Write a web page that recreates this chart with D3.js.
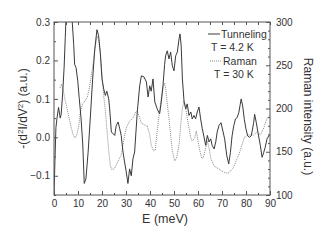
<!DOCTYPE html>
<html>
<head>
<meta charset="utf-8">
<script src="https://d3js.org/d3.v7.min.js"></script>
<style>
  body { margin: 0; background: #fff; }
  svg { display: block; font-family: "Liberation Sans", Arial, sans-serif; }
</style>
</head>
<body>
<svg id="chart" width="327" height="245"></svg>
<script>
// tunneling: -(d2I/dV2), left axis
var tunE = [0, 0.4, 0.8, 1.25, 1.9, 2.6, 3.0, 3.6, 4.2, 4.7, 5.0, 5.5, 6.3, 7.0, 7.5, 8.2, 8.6, 9.2, 9.9, 10.5,
  11.25, 12, 12.6, 13.3, 14.2, 15.1, 16.1, 17, 17.9, 18.6, 19.3, 20, 20.7, 21.4, 22, 22.8, 23.2, 23.9, 25.3, 25.9,
  26.7, 27.4, 28, 28.75, 29.4, 30.1, 30.8, 31.5, 32.2, 32.9, 33.6, 34.7, 35.7, 36.4, 37.5, 38.5, 39.2, 39.9, 40.5, 41.25,
  42, 43, 44, 44.7, 45.4, 46.1, 46.5, 47.2, 47.9, 48.6, 49.3, 50, 50.7, 51.4, 52.1, 52.5, 53, 53.5, 54.2, 54.9,
  55.5, 56.25, 57, 57.6, 58.3, 59, 59.7, 60.4, 61.1, 61.8, 62.5, 63.2, 63.9, 64.6, 65.3, 65.9, 66.7, 67.4, 68, 68.75,
  69.6, 71.1, 72, 72.8, 73.5, 74.2, 74.9, 75.6, 76.25, 77, 77.6, 78, 78.6, 79.3, 80, 80.7, 81.4, 82.2, 83.2, 83.6,
  84.3, 85, 86, 86.7, 87.4, 88, 88.75, 89.5, 90];
var tunVal = [-0.15, -0.06, 0.025, 0.05, 0.078, 0.05, 0.06, 0.113, 0.18, 0.26, 0.31, 0.38, 0.42, 0.38, 0.31, 0.242, 0.19, 0.181, 0.147, 0.103,
  0.051, -0.02, -0.12, -0.108, -0.04, 0.048, 0.152, 0.23, 0.28, 0.264, 0.22, 0.152, 0.126, 0.109, 0.12, 0.1, 0.074, 0.014, 0.005, 0.03,
  0.04, 0.022, 0.005, -0.038, -0.064, -0.09, -0.12, -0.082, -0.1, -0.056, -0.038, 0.066, 0.134, 0.16, 0.157, 0.144, 0.105, 0.134, 0.12, 0.152,
  0.092, 0.074, 0.061, 0.092, 0.134, 0.19, 0.212, 0.225, 0.204, 0.222, 0.186, 0.173, 0.212, 0.222, 0.256, 0.269, 0.238, 0.152, 0.092, 0.074,
  0.087, 0.057, 0.066, 0.048, 0.057, 0.048, 0.066, 0.079, 0.048, 0.022, 0.001, -0.021, 0.005, -0.012, -0.004, -0.021, -0.03, -0.012, 0.014, 0.031,
  0.038, -0.004, -0.048, -0.069, -0.04, 0.004, 0.03, 0.048, 0.051, 0.064, 0.086, 0.1, 0.082, 0.047, 0.021, 0.004, 0, 0.004, 0.038, 0.06,
  0.038, 0.012, -0.022, -0.052, -0.039, -0.026, -0.004, 0.004, 0.008];

// raman intensity, right axis
var ramE = [2.5, 3.2, 4.0, 4.6, 5.3, 6.0, 7.0, 8.0, 8.8, 9.5, 10.3, 11, 12, 13, 13.9, 14.7, 15.8, 17, 17.9, 18.6,
  19.3, 20, 20.7, 21.4, 22.1, 22.8, 23.5, 24.2, 25.3, 26.7, 28, 28.75, 29.4, 30.1, 31.5, 32.9, 34.3, 35, 35.7, 36.4,
  37.8, 38.9, 39.9, 40.5, 41.5, 42.2, 43, 44, 44.7, 45.4, 46.1, 46.5, 47.2, 47.9, 48.6, 49.3, 50.3, 51.1, 52.1, 52.8,
  53.5, 54.2, 54.9, 55.5, 56.25, 57, 57.6, 58.6, 59.3, 60, 60.8, 61.5, 62.2, 63.2, 63.9, 64.6, 65.3, 66.7, 68, 69.5,
  70.5, 72, 72.8, 73.9, 74.9, 76, 77, 78.3, 79.4, 81, 83.2, 84.6, 86, 87.4, 88.75, 90];
var ramVal = [223.7, 228.3, 219, 209.8, 201.7, 192.5, 179.8, 169.4, 165.9, 169.4, 179.8, 196, 206.4, 208.7, 213.3, 223.7, 242.2, 267.6, 283.8, 279.2,
  263, 238.7, 215.6, 197.1, 174, 150.9, 133.5, 128.9, 131.2, 139.3, 146.2, 157.8, 168.2, 177.5, 185.5, 189, 197.1, 194.8, 189, 183.2,
  180.9, 179.8, 169.4, 157.8, 150.9, 152, 174, 197.1, 212.1, 223.7, 229.5, 223.7, 205.2, 189, 169.4, 150.9, 139.3, 142.8, 157.8, 180.9,
  200.6, 208.7, 200.6, 189, 177.5, 165.9, 162.4, 165.9, 174, 162.4, 150.9, 142.8, 142.8, 154.3, 162.4, 154.3, 142.8, 133.5, 131.2, 128.9,
  126.6, 125.4, 125.4, 128.9, 132.3, 140.5, 146.2, 157.8, 167, 169.4, 169.4, 172.8, 169.4, 177.5, 189, 192.5];

var xTicks = [0, 10, 20, 30, 40, 50, 60, 70, 80, 90];
var yLeftTicks = [-0.1, 0.0, 0.1, 0.2, 0.3];
var yRightTicks = [100, 150, 200, 250, 300];

var margin = {top: 22, right: 57, bottom: 50, left: 54};
var W = 327, H = 245;
var svg = d3.select("#chart");
var axisColor = "#555", textColor = "#333";

var x = d3.scaleLinear().domain([0, 90]).range([margin.left, W - margin.right]);
var yL = d3.scaleLinear().domain([-0.15, 0.3]).range([H - margin.bottom, margin.top]);
var yR = d3.scaleLinear().domain([100, 300]).range([H - margin.bottom, margin.top]);

svg.append("defs").append("clipPath").attr("id", "plotclip")
  .append("rect")
  .attr("x", x(0)).attr("y", yL(0.3))
  .attr("width", x(90) - x(0)).attr("height", yL(-0.15) - yL(0.3));

var plot = svg.append("g").attr("clip-path", "url(#plotclip)");

// raman (dotted)
var ramLine = d3.line().x(function (d) { return x(d[0]); }).y(function (d) { return yR(d[1]); });
plot.append("path")
  .datum(d3.zip(ramE, ramVal))
  .attr("d", ramLine)
  .attr("fill", "none")
  .attr("stroke", "#8a8a8a")
  .attr("stroke-width", 1)
  .attr("stroke-dasharray", "1,1");

// tunneling (solid)
var tunLine = d3.line().x(function (d) { return x(d[0]); }).y(function (d) { return yL(d[1]); });
plot.append("path")
  .datum(d3.zip(tunE, tunVal))
  .attr("d", tunLine)
  .attr("fill", "none")
  .attr("stroke", "#3a3a3a")
  .attr("stroke-width", 1);

// axes, ticks pointing inward
function styleAxis(g) {
  g.selectAll("path.domain").remove();
  g.selectAll("line").attr("stroke", axisColor);
  g.selectAll("text").attr("fill", textColor).style("font-size", "10px");
}
var yBot = H - margin.bottom;

svg.append("g").attr("transform", "translate(0," + yBot + ")")
  .call(d3.axisBottom(x).tickValues(xTicks).tickSize(-4).tickPadding(5).tickFormat(d3.format("d")))
  .call(styleAxis);
svg.append("g").attr("transform", "translate(0," + yBot + ")")
  .call(d3.axisBottom(x).tickValues(d3.range(5, 90, 10)).tickSize(-2).tickFormat(""))
  .call(styleAxis);
svg.append("g").attr("transform", "translate(0," + margin.top + ")")
  .call(d3.axisTop(x).tickValues(d3.range(0, 91, 5)).tickSize(-3).tickFormat(""))
  .call(styleAxis);

svg.append("g").attr("transform", "translate(" + margin.left + ",0)")
  .call(d3.axisLeft(yL).tickValues(yLeftTicks).tickSize(-4).tickPadding(4).tickFormat(d3.format(".1f")))
  .call(styleAxis);
svg.append("g").attr("transform", "translate(" + margin.left + ",0)")
  .call(d3.axisLeft(yL).tickValues([-0.15, -0.05, 0.05, 0.15, 0.25]).tickSize(-2).tickFormat(""))
  .call(styleAxis);

var xRight = W - margin.right;
svg.append("g").attr("transform", "translate(" + xRight + ",0)")
  .call(d3.axisRight(yR).tickValues(yRightTicks).tickSize(-4).tickPadding(6).tickFormat(d3.format("d")))
  .call(styleAxis);
svg.append("g").attr("transform", "translate(" + xRight + ",0)")
  .call(d3.axisRight(yR).tickValues(d3.range(110, 300, 10).filter(function (v) { return v % 50 !== 0; })).tickSize(-2).tickFormat(""))
  .call(styleAxis);

// frame
svg.append("rect")
  .attr("x", x(0)).attr("y", margin.top)
  .attr("width", x(90) - x(0)).attr("height", yBot - margin.top)
  .attr("fill", "none").attr("stroke", axisColor).attr("stroke-width", 1);

// axis titles
svg.append("text")
  .attr("x", (x(0) + x(90)) / 2 + 3).attr("y", 223)
  .attr("text-anchor", "middle").attr("fill", textColor)
  .style("font-size", "12.5px")
  .text("E (meV)");

var yt = svg.append("text")
  .attr("transform", "translate(27," + ((margin.top + yBot) / 2) + ") rotate(-90)")
  .attr("text-anchor", "middle").attr("fill", textColor)
  .style("font-size", "12px");
yt.append("tspan").text("-(d");
yt.append("tspan").attr("dy", -4).style("font-size", "8px").text("2");
yt.append("tspan").attr("dy", 4).text("I/dV");
yt.append("tspan").attr("dy", -4).style("font-size", "8px").text("2");
yt.append("tspan").attr("dy", 4).text(") (a.u.)");

svg.append("text")
  .attr("transform", "translate(304," + ((margin.top + yBot) / 2 + 8) + ") rotate(90)")
  .attr("text-anchor", "middle").attr("fill", textColor)
  .style("font-size", "12px")
  .text("Raman intensity (a.u.)");

// legend
var leg = svg.append("g").style("font-size", "10.5px").attr("fill", textColor);
leg.append("line").attr("x1", 208).attr("x2", 220).attr("y1", 34).attr("y2", 34)
  .attr("stroke", "#3a3a3a").attr("stroke-width", 1);
leg.append("text").attr("x", 221).attr("y", 38).text("Tunneling");
leg.append("text").attr("x", 211).attr("y", 51).text("T = 4.2 K");
leg.append("line").attr("x1", 210).attr("x2", 221).attr("y1", 61).attr("y2", 61)
  .attr("stroke", "#8a8a8a").attr("stroke-width", 1).attr("stroke-dasharray", "1,1");
leg.append("text").attr("x", 223).attr("y", 65).text("Raman");
leg.append("text").attr("x", 214).attr("y", 78).text("T = 30 K");
</script>
</body>
</html>
